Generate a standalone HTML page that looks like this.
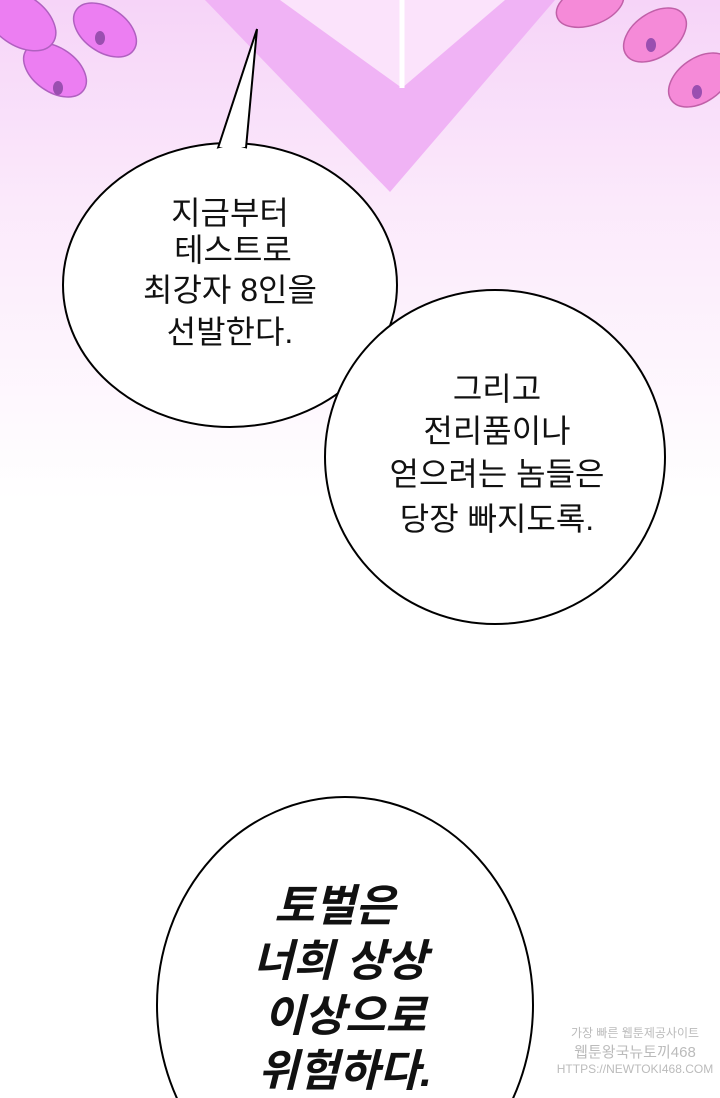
<!DOCTYPE html>
<html><head><meta charset="utf-8"><style>
html,body{margin:0;padding:0;width:720px;height:1098px;overflow:hidden;background:#fff}
svg{display:block}
text{font-family:"Liberation Sans","Noto Sans CJK KR",sans-serif;fill:#111}
</style></head><body>
<svg width="720" height="1098" viewBox="0 0 720 1098">
<defs>
<linearGradient id="bg" x1="0" y1="0" x2="0" y2="1">
<stop offset="0" stop-color="#f6d4f8"/><stop offset="0.4" stop-color="#fbe9fb"/><stop offset="1" stop-color="#ffffff"/>
</linearGradient>
</defs>
<rect width="720" height="1098" fill="#fff"/>
<rect width="720" height="500" fill="url(#bg)"/>
<polygon points="205,0 555,0 390,192" fill="#f0b3f5"/>
<polygon points="280,0 505,0 402,88" fill="#fbe3fb"/>
<line x1="402" y1="0" x2="402" y2="88" stroke="#fff" stroke-width="5"/>
<g fill="#ec7ef2" stroke="#b060c0" stroke-width="1.5">
<ellipse cx="105" cy="30" rx="35" ry="22" transform="rotate(35 105 30)"/>
<ellipse cx="55" cy="70" rx="35" ry="22" transform="rotate(35 55 70)"/>
<ellipse cx="20" cy="20" rx="40" ry="25" transform="rotate(35 20 20)"/>
</g>
<g fill="#f58ad8" stroke="#c060a8" stroke-width="1.5">
<ellipse cx="655" cy="35" rx="35" ry="22" transform="rotate(-35 655 35)"/>
<ellipse cx="700" cy="80" rx="35" ry="22" transform="rotate(-35 700 80)"/>
<ellipse cx="590" cy="5" rx="35" ry="20" transform="rotate(-20 590 5)"/>
</g>
<g fill="#9a4fb0"><ellipse cx="100" cy="38" rx="5" ry="7"/><ellipse cx="58" cy="88" rx="5" ry="7"/><ellipse cx="651" cy="45" rx="5" ry="7"/><ellipse cx="697" cy="92" rx="5" ry="7"/></g>

<g fill="#fff" stroke="#000" stroke-width="2">
<ellipse cx="230" cy="285" rx="167" ry="142"/>
<ellipse cx="495" cy="457" rx="170" ry="167"/>
<ellipse cx="345" cy="1005" rx="188" ry="208"/>
</g>
<polygon points="218,148 257,29 246,148" fill="#fff" stroke="#000" stroke-width="2"/>
<path d="M214,150 Q232,142 250,150" fill="#fff" stroke="none"/>

<g font-size="32" text-anchor="middle">
<text x="230" y="224">지금부터</text>
<text x="233" y="261">테스트로</text>
<text x="230" y="301">최강자 8인을</text>
<text x="230" y="343">선발한다.</text>
<text x="497" y="400">그리고</text>
<text x="497" y="442">전리품이나</text>
<text x="497" y="485">얻으려는 놈들은</text>
<text x="497" y="530">당장 빠지도록.</text>
</g>
<g font-size="44" font-weight="bold" font-style="italic" text-anchor="middle">
<text x="335" y="921">토벌은</text>
<text x="340" y="976">너희 상상</text>
<text x="345" y="1031">이상으로</text>
<text x="345" y="1086">위험하다.</text>
</g>
<g font-size="12" fill="#bbb" text-anchor="middle">
<text x="635" y="1037" style="fill:#bbb">가장 빠른 웹툰제공사이트</text>
<text x="635" y="1057" style="fill:#bbb" font-size="15">웹툰왕국뉴토끼468</text>
<text x="635" y="1073" style="fill:#bbb">HTTPS://NEWTOKI468.COM</text>
</g>
</svg>
</body></html>
